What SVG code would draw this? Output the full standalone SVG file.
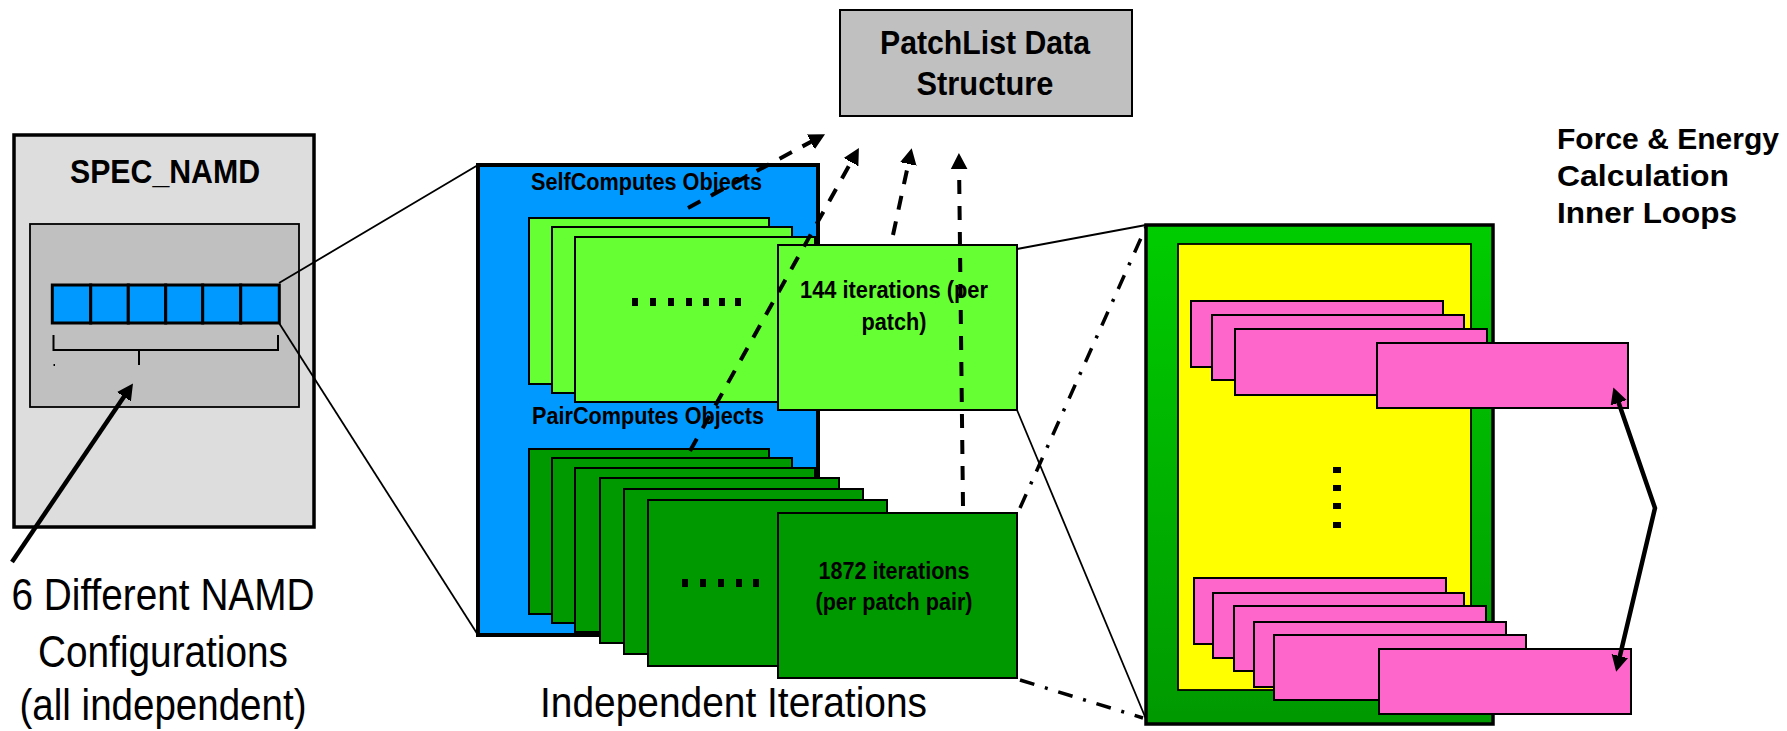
<svg xmlns="http://www.w3.org/2000/svg" width="1787" height="731" viewBox="0 0 1787 731">
<style>
text{font-family:"Liberation Sans",Arial,sans-serif;fill:#000}
.b{font-weight:bold}
.thin{stroke:#000;stroke-width:2}
.lg{fill:#66ff33;stroke:#000;stroke-width:2}
.dg{fill:#009900;stroke:#000;stroke-width:2}
.pk{fill:#ff66cc;stroke:#000;stroke-width:2}
.dot{fill:#000}
.dash{fill:none;stroke:#000;stroke-width:4;stroke-dasharray:14 12;marker-end:url(#ah)}
.dd{fill:none;stroke:#000;stroke-width:3.5;stroke-dasharray:15 11 3 11}
.ln{fill:none;stroke:#000;stroke-width:1.8}
.arr{fill:none;stroke:#000;stroke-width:4.5}
</style>
<defs>
<marker id="ah" markerUnits="userSpaceOnUse" markerWidth="36" markerHeight="30" viewBox="-8 -15 36 30" refX="0" refY="0" orient="auto-start-reverse">
<path d="M8,0 L-17,-13 L-9,0 L-17,13 Z" fill="#000"/>
</marker>
<linearGradient id="gg" x1="0" y1="0" x2="0" y2="1">
<stop offset="0" stop-color="#00cc00"/>
<stop offset="1" stop-color="#009900"/>
</linearGradient>
</defs>

<g id="spec-namd">
<rect x="14" y="135" width="300" height="392" fill="#dddddd" stroke="#000" stroke-width="3.5"/>
<text class="b" x="165" y="183" font-size="33" text-anchor="middle" textLength="190" lengthAdjust="spacingAndGlyphs">SPEC_NAMD</text>
<rect x="30" y="224" width="269" height="183" fill="#c0c0c0" stroke="#000" stroke-width="1.8"/>
<g fill="#0099ff" stroke="#000" stroke-width="3">
<rect x="52.3" y="285" width="38.4" height="38"/>
<rect x="90.7" y="285" width="37.6" height="38"/>
<rect x="128.3" y="285" width="37.4" height="38"/>
<rect x="165.7" y="285" width="37" height="38"/>
<rect x="202.7" y="285" width="38" height="38"/>
<rect x="240.7" y="285" width="38.6" height="38"/>
</g>
<path d="M53.5,335 V350 H278 V335 M139,350 V365" fill="none" stroke="#000" stroke-width="2"/>
<rect x="53.5" y="364" width="1.5" height="2" fill="#000"/>
</g>

<g id="config-label">
<text x="163" y="610" font-size="44" text-anchor="middle" textLength="303" lengthAdjust="spacingAndGlyphs">6 Different NAMD</text>
<text x="163" y="667" font-size="44" text-anchor="middle" textLength="250" lengthAdjust="spacingAndGlyphs">Configurations</text>
<text x="163" y="720" font-size="44" text-anchor="middle" textLength="287" lengthAdjust="spacingAndGlyphs">(all independent)</text>
</g>

<g id="patchlist">
<rect x="840" y="10" width="292" height="106" fill="#c0c0c0" stroke="#000" stroke-width="2"/>
<text class="b" x="985" y="54" font-size="34" text-anchor="middle" textLength="210" lengthAdjust="spacingAndGlyphs">PatchList Data</text>
<text class="b" x="985" y="95" font-size="34" text-anchor="middle" textLength="137" lengthAdjust="spacingAndGlyphs">Structure</text>
</g>

<g id="computes">
<rect x="478" y="165" width="340" height="470" fill="#0099ff" stroke="#000" stroke-width="4"/>
<text class="b" x="531" y="190" font-size="23" textLength="231" lengthAdjust="spacingAndGlyphs">SelfComputes Objects</text>
<text class="b" x="532" y="424" font-size="23" textLength="232" lengthAdjust="spacingAndGlyphs">PairComputes Objects</text>
</g>

<g id="self-computes">
<rect class="lg" x="529" y="218" width="240" height="166"/>
<rect class="lg" x="552" y="227" width="240" height="166"/>
<rect class="lg" x="575" y="237" width="240" height="165"/>
<g class="dot">
<rect x="632" y="298" width="6" height="8"/><rect x="650" y="298" width="6" height="8"/><rect x="668" y="298" width="6" height="8"/><rect x="686" y="298" width="6" height="8"/><rect x="703" y="298" width="6" height="8"/><rect x="719" y="298" width="6" height="8"/><rect x="735" y="298" width="6" height="8"/>
</g>
</g>

<g id="self-front">
<rect class="lg" x="778" y="245" width="239" height="165"/>
<text class="b" x="894" y="298" font-size="23" text-anchor="middle" textLength="188" lengthAdjust="spacingAndGlyphs">144 iterations (per</text>
<text class="b" x="894" y="330" font-size="23" text-anchor="middle" textLength="65" lengthAdjust="spacingAndGlyphs">patch)</text>
</g>

<g id="pair-computes">
<rect class="dg" x="529" y="449" width="240" height="165"/>
<rect class="dg" x="552" y="458" width="240" height="165"/>
<rect class="dg" x="575" y="468" width="240" height="164"/>
<rect class="dg" x="600" y="478" width="239" height="165"/>
<rect class="dg" x="624" y="489" width="239" height="165"/>
<rect class="dg" x="648" y="500" width="239" height="166"/>
<g class="dot">
<rect x="682" y="579" width="6" height="8"/><rect x="700" y="579" width="6" height="8"/><rect x="718" y="579" width="6" height="8"/><rect x="736" y="579" width="6" height="8"/><rect x="753" y="579" width="6" height="8"/>
</g>
</g>

<g id="pair-front">
<rect class="dg" x="778" y="513" width="239" height="165"/>
<text class="b" x="894" y="579" font-size="23" text-anchor="middle" textLength="151" lengthAdjust="spacingAndGlyphs">1872 iterations</text>
<text class="b" x="894" y="610" font-size="23" text-anchor="middle" textLength="157" lengthAdjust="spacingAndGlyphs">(per patch pair)</text>
</g>

<g id="iter-label">
<text x="540" y="717" font-size="42" textLength="387" lengthAdjust="spacingAndGlyphs">Independent Iterations</text>
</g>

<g id="inner-loops">
<rect x="1146" y="225" width="347" height="499" fill="url(#gg)" stroke="#000" stroke-width="3.5"/>
<rect x="1178" y="244" width="293" height="446" fill="#ffff00" stroke="#000" stroke-width="1.8"/>
<rect class="pk" x="1191" y="301" width="252" height="66"/>
<rect class="pk" x="1212" y="315" width="252" height="65"/>
<rect class="pk" x="1235" y="329" width="252" height="66"/>
<g class="dot">
<rect x="1333" y="467" width="8" height="6"/><rect x="1333" y="485" width="8" height="6"/><rect x="1333" y="503" width="8" height="6"/><rect x="1333" y="522" width="8" height="6"/>
</g>
<rect class="pk" x="1194" y="578" width="252" height="66"/>
<rect class="pk" x="1213" y="593" width="251" height="65"/>
<rect class="pk" x="1234" y="606" width="252" height="65"/>
<rect class="pk" x="1254" y="622" width="252" height="65"/>
<rect class="pk" x="1274" y="635" width="252" height="65"/>
</g>

<g id="loop-top">
<rect class="pk" x="1377" y="343" width="251" height="65"/>
</g>
<g id="loop-bottom">
<rect class="pk" x="1379" y="649" width="252" height="65"/>
</g>

<g id="force-label">
<text class="b" x="1557" y="149" font-size="30" textLength="222" lengthAdjust="spacingAndGlyphs">Force &amp; Energy</text>
<text class="b" x="1557" y="186" font-size="30" textLength="172" lengthAdjust="spacingAndGlyphs">Calculation</text>
<text class="b" x="1557" y="223" font-size="30" textLength="180" lengthAdjust="spacingAndGlyphs">Inner Loops</text>
</g>

<g id="connectors">
<line class="ln" x1="279" y1="283" x2="478" y2="165"/>
<line class="ln" x1="279" y1="323" x2="478" y2="635"/>
<line class="ln" x1="1017" y1="249" x2="1146" y2="225"/>
<line class="ln" x1="1017" y1="410" x2="1146" y2="719"/>
<line class="dd" x1="1020" y1="508" x2="1146" y2="227"/>
<line class="dd" x1="1020" y1="680" x2="1143" y2="718"/>
<path class="dash" d="M688,208 L818,138"/>
<path class="dash" d="M690,451 L855,155"/>
<path class="dash" d="M893,235 L910,156"/>
<path class="dash" d="M963,506 L959,161"/>
<path class="arr" d="M12,562 L128.5,390" marker-end="url(#ah)"/>
<path class="arr" d="M1616,395 L1655,508 L1618,664" marker-start="url(#ah)" marker-end="url(#ah)"/>
</g>
</svg>
